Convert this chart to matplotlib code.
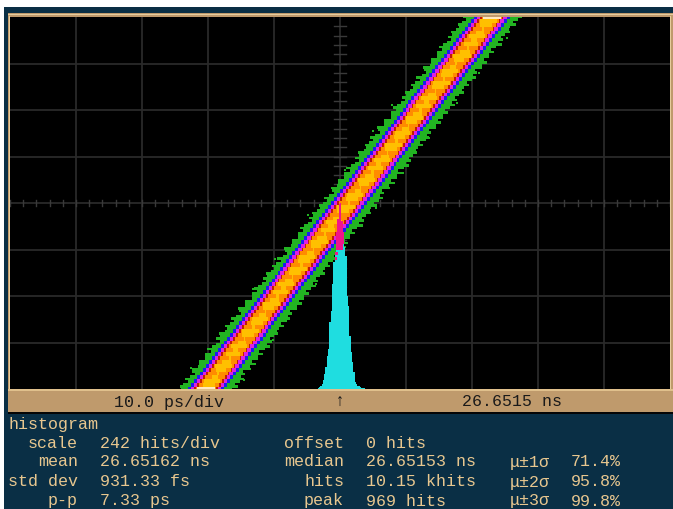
import numpy as np
import matplotlib
matplotlib.use('Agg')
import matplotlib.pyplot as plt
from matplotlib.patches import Rectangle

W, H = 673, 509

# scope trace, ps against divisions
center_ps = [-20.3, 23.0]
center_div = [0, 8]
half_green = 4.1
half_blue = 2.7
half_magenta = 2.25
half_red = 1.75
half_orange = 1.5

# edge roughness of the green band and the yellow streaks, ps
jag_left = [0.3, -0.2, 0.1, 0.5, -0.3, 0.2, 0.6, 0.0, -0.4, 0.3, 0.1, -0.2,
            0.5, 0.2, -0.1, 0.4, -0.4, 0.0, 0.3, 0.6, -0.2, 0.1, -0.3, 0.2]
jag_right = [-0.1, 0.4, -0.3, 0.2, 0.5, -0.2, 0.1, -0.5, 0.3, 0.0, 0.5, -0.3,
             0.2, -0.1, 0.4, -0.4, 0.1, 0.6, -0.2, 0.3, -0.3, 0.0, 0.4, -0.1]
streak = [0.2, 0.9, 1.2, 0.5, 0.1, 0.8, 1.3, 0.7, 0.2, 1.1, 0.4, 1.2, 0.6, 0.1, 0.9, 1.3]

speck_ps = [-22.6, -17.3, -13.2, -9.8, -4.8, 9.5, 13.5, 17.7, 21.1, 25.3,
            -14.6, -10.1, -3.6, 0.8, 5.5, 0.8, 5.0, 7.9]
speck_div = [0.45, 1.35, 2.15, 2.8, 3.75, 4.65, 5.4, 6.15, 6.8, 7.55,
             0.2, 1.05, 2.25, 3.05, 3.9, 4.7, 5.55, 6.1]

# histogram, 0.2 ps bins
bin_ps = [-3.3, -3.1, -2.9, -2.7, -2.5, -2.3, -2.1, -1.9, -1.7, -1.5, -1.3, -1.1,
          -0.9, -0.7, -0.5, -0.3, -0.1, 0.1, 0.3, 0.5, 0.7, 0.9, 1.1, 1.3,
          1.5, 1.7, 1.9, 2.1, 2.3, 2.5, 2.7, 2.9, 3.1, 3.3, 3.5, 3.7]
hits = [5, 9, 14, 26, 49, 78, 113, 173, 208, 347, 408, 547,
        659, 711, 815, 885, 963, 969, 876, 815, 737, 694, 486, 434,
        278, 191, 139, 87, 38, 26, 17, 14, 10, 7, 5, 3]
hits_per_div = 242

status_left = '10.0 ps/div'
status_right = '26.6515 ns'
labels_col1 = ['scale', 'mean', 'std dev', 'p-p']
values_col1 = ['242 hits/div', '26.65162 ns', '931.33 fs', '7.33 ps']
labels_col2 = ['offset', 'median', 'hits', 'peak']
values_col2 = ['0 hits', '26.65153 ns', '10.15 khits', '969 hits']
labels_col3 = ['μ±1σ', 'μ±2σ', 'μ±3σ']
values_col3 = ['71.4%', '95.8%', '99.8%']

TAN = '#bf9a6c'
NAVY = '#0a2f45'
TEXT = '#e8c78f'
MONO = ['Liberation Mono', 'DejaVu Sans Mono']

fig = plt.figure(figsize=(W / 100, H / 100), dpi=100, facecolor='white')


def box(x0, y0, x1, y1, color, z=-1):
    fig.add_artist(Rectangle((x0 / W, 1 - y1 / H), (x1 - x0) / W, (y1 - y0) / H,
                             transform=fig.transFigure, color=color, lw=0, zorder=z))


def label(x, y, s, ha='left', color=TEXT, size=12):
    fig.text(x / W, 1 - y / H, s, ha=ha, va='center', color=color, fontsize=size, family=MONO)


# instrument panel
box(4, 7, W, H, NAVY, z=-3)
box(8, 13, W, 412, TAN, z=-2)
box(8, 14, W, 15, '#e6cc9c')
box(8, 412, W, 414, '#050505')
box(9, 16, 10, 389, '#e6cc9c')
box(670, 16, 671, 389, '#e6cc9c')
box(8, 389, W, 391, '#e0c08c')

ax = fig.add_axes([10 / W, 1 - 389 / H, 660 / W, 372 / H], facecolor='black')
ax.set_xlim(-50, 50)
ax.set_ylim(0, 8)
ax.set_xticks([])
ax.set_yticks([])
for s in ax.spines.values():
    s.set_visible(False)

# graticule
grid_c = '#2a2a2a'
for d in range(-4, 5):
    ax.axvline(d * 10, color=grid_c, lw=1.3, zorder=1)
for d in range(1, 8):
    ax.axhline(d, color=grid_c, lw=1.3, zorder=1)
for d in range(-25, 26):
    ax.plot([d * 2, d * 2], [3.93, 4.07], color='#3a3a3a', lw=1, zorder=1)
for d in range(1, 40):
    ax.plot([-0.9, 0.9], [d / 5, d / 5], color='#3a3a3a', lw=1, zorder=1)

# trace bands, outermost first
fine = np.linspace(0, 8, 149)
mid_fine = np.interp(fine, center_div, center_ps)
left = mid_fine - half_green + np.resize(jag_left, fine.size)
right = mid_fine + half_green + np.resize(jag_right, fine.size)
green = ax.fill_betweenx(fine, left, right, step='mid', color='#22b422', lw=0, zorder=2)
ax.scatter(speck_ps, speck_div, marker='s', s=2.5, color='#22b422', lw=0, zorder=2)

levels = np.linspace(0, 8, 97)
mid = np.interp(levels, center_div, center_ps)
for half, col in [(half_blue, '#1c1cf0'), (half_magenta, '#e020e0'),
                  (half_red, '#c01a08'), (half_orange, '#ff8c00')]:
    ax.fill_betweenx(levels, mid - half, mid + half, step='mid', color=col, lw=0, zorder=3)

st = np.resize(streak, levels.size)
ax.fill_betweenx(levels, mid - st, mid + st, step='mid', color='#ffc000', lw=0, zorder=4)

# saturated ends of the trace
ax.fill_betweenx([0, 0.05], center_ps[0] - 1.4, center_ps[0] + 1.4, color='#ffe8c0', lw=0, zorder=5)
ax.fill_betweenx([7.96, 8], center_ps[1] - 1.4, center_ps[1] + 1.4, color='#ffe8c0', lw=0, zorder=5)

# histogram, pink where it lies over the trace
hist_div = np.array(hits) / hits_per_div
ax.bar(bin_ps, hist_div, width=0.2, color='#1fdde0', lw=0, zorder=6)
pink = ax.bar(bin_ps, hist_div, width=0.2, color='#f0148c', lw=0, zorder=7)
band_path = green.get_paths()[0]
for p in pink:
    p.set_clip_path(band_path, ax.transData)

# status bar
label(114, 402, status_left, color='#1a1a1a')
label(340, 401, '↑', ha='center', color='#1a1a1a')
label(462, 402, status_right, color='#1a1a1a')

# readout
rows = [443, 462, 482, 501]
label(8, 425, 'histogram')
for i, y in enumerate(rows):
    label(78, y, labels_col1[i], ha='right')
    label(100, y, values_col1[i])
    label(344, y, labels_col2[i], ha='right')
    label(366, y, values_col2[i])
for i, y in enumerate(rows[1:]):
    label(510, y, labels_col3[i])
    label(571, y, values_col3[i])

fig.savefig('out.png', dpi=100, facecolor='white')
